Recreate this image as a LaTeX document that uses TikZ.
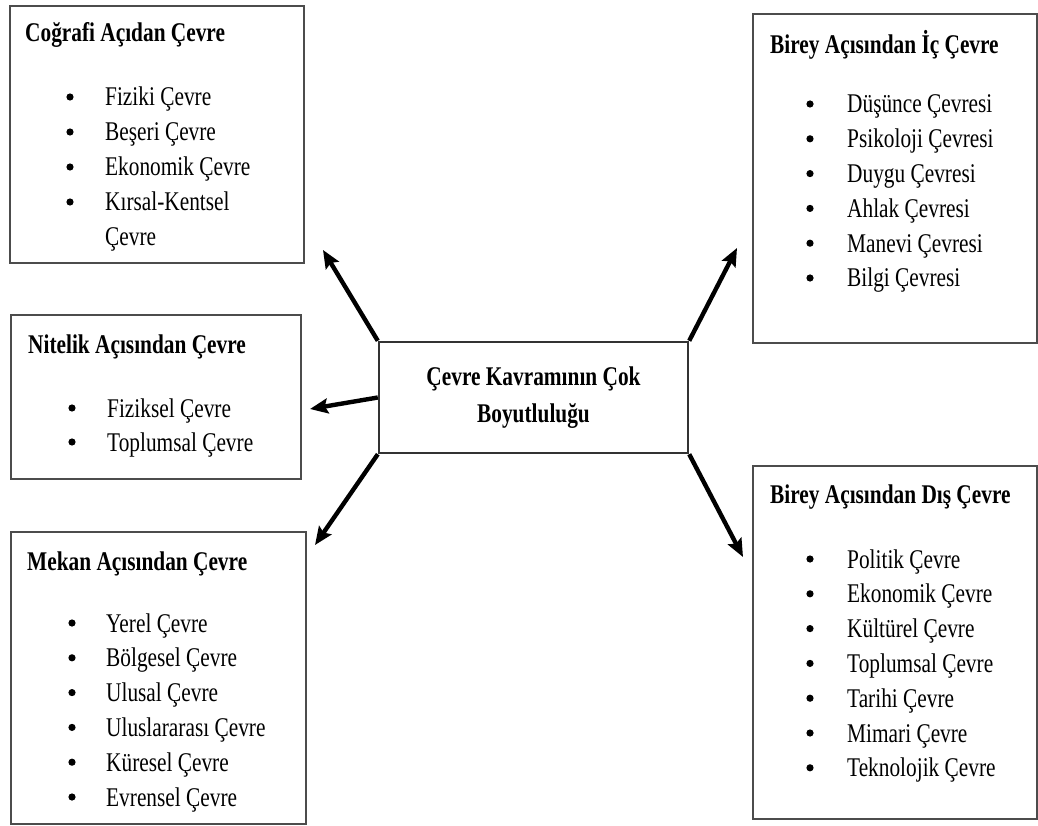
\documentclass[tikz,border=0pt]{standalone}
\usepackage{fontspec}
\setmainfont{Liberation Serif}[FakeStretch=0.79]
\usepackage{tikz}
\usetikzlibrary{arrows.meta}

\tikzset{
    kutu/.style={draw=black!70, line width=1.8pt, anchor=north west, inner sep=0pt},
    baslik/.style={anchor=base west, inner sep=0pt, font=\fontsize{27}{35}\selectfont\bfseries},
    madde/.style={anchor=base west, inner sep=0pt},
    ok/.style={line width=4.4pt, -{Stealth[length=18pt, width=15pt, inset=3pt]}}
}

\begin{document}
\begin{tikzpicture}[x=1pt, y=-1pt, font=\fontsize{27}{35}\selectfont]
    \useasboundingbox (0,0) rectangle (1038,826);

    % Kutular (sol)
    \node[kutu, minimum width=294pt, minimum height=257pt] (cografi) at (9,5) {};
    \node[kutu, minimum width=290pt, minimum height=164pt] (nitelik) at (10,314) {};
    \node[kutu, minimum width=295pt, minimum height=292pt] (mekan) at (10,531) {};

    % Kutular (sag)
    \node[kutu, minimum width=284pt, minimum height=329pt] (ic) at (752,13) {};
    \node[kutu, minimum width=284pt, minimum height=353pt] (dis) at (752,465) {};

    % Merkez kutu
    \node[draw=black!80, line width=2.4pt, inner sep=0pt, minimum width=309pt,
          minimum height=111pt, align=center, font=\fontsize{27}{37}\selectfont\bfseries]
          (merkez) at (533.5,397.5) {Çevre Kavramının Çok\\Boyutluluğu};

    % Basliklar
    \node[baslik] (cografi-b) at (25,42) {Coğrafi Açıdan Çevre};
    \node[baslik] (nitelik-b) at (28,353) {Nitelik Açısından Çevre};
    \node[baslik] (mekan-b) at (27,570) {Mekan Açısından Çevre};
    \node[baslik] (ic-b) at (770,54) {Birey Açısından İç Çevre};
    \node[baslik] (dis-b) at (770,503) {Birey Açısından Dış Çevre};

    % Maddeler
    \foreach \m [count=\i] in {Fiziki Çevre, Beşeri Çevre, Ekonomik Çevre, Kırsal-Kentsel} {
        \fill (70,{106+35*(\i-1)-9}) circle (3.6pt);
        \node[madde] (cografi-\i) at (105,{106+35*(\i-1)}) {\m};
    }
    \node[madde] (cografi-5) at (105,246) {Çevre};

    \foreach \m [count=\i] in {Fiziksel Çevre, Toplumsal Çevre} {
        \fill (72,{417+34*(\i-1)-9}) circle (3.6pt);
        \node[madde] (nitelik-\i) at (107,{417+34*(\i-1)}) {\m};
    }

    \foreach \m [count=\i] in {Yerel Çevre, Bölgesel Çevre, Ulusal Çevre,
                               Uluslararası Çevre, Küresel Çevre, Evrensel Çevre} {
        \fill (72,{632+34.8*(\i-1)-9}) circle (3.6pt);
        \node[madde] (mekan-\i) at (106,{632+34.8*(\i-1)}) {\m};
    }

    \foreach \m [count=\i] in {Düşünce Çevresi, Psikoloji Çevresi, Duygu Çevresi,
                               Ahlak Çevresi, Manevi Çevresi, Bilgi Çevresi} {
        \fill (810,{113+34.8*(\i-1)-9}) circle (3.6pt);
        \node[madde] (ic-\i) at (847,{113+34.8*(\i-1)}) {\m};
    }

    \foreach \m [count=\i] in {Politik Çevre, Ekonomik Çevre, Kültürel Çevre, Toplumsal Çevre,
                               Tarihi Çevre, Mimari Çevre, Teknolojik Çevre} {
        \fill (810,{568+34.8*(\i-1)-9}) circle (3.6pt);
        \node[madde] (dis-\i) at (847,{568+34.8*(\i-1)}) {\m};
    }

    % Ok uclari
    \coordinate (ucA) at (323,250);
    \coordinate (ucB) at (310,409);
    \coordinate (ucC) at (315,545);
    \coordinate (ucD) at (737,248);
    \coordinate (ucE) at (743,557);

    % Oklar
    \draw[ok] (merkez.north west) -- (ucA);
    \draw[ok] (merkez.west) -- (ucB);
    \draw[ok] (merkez.south west) -- (ucC);
    \draw[ok] (merkez.north east) -- (ucD);
    \draw[ok] (merkez.south east) -- (ucE);
\end{tikzpicture}
\end{document}
